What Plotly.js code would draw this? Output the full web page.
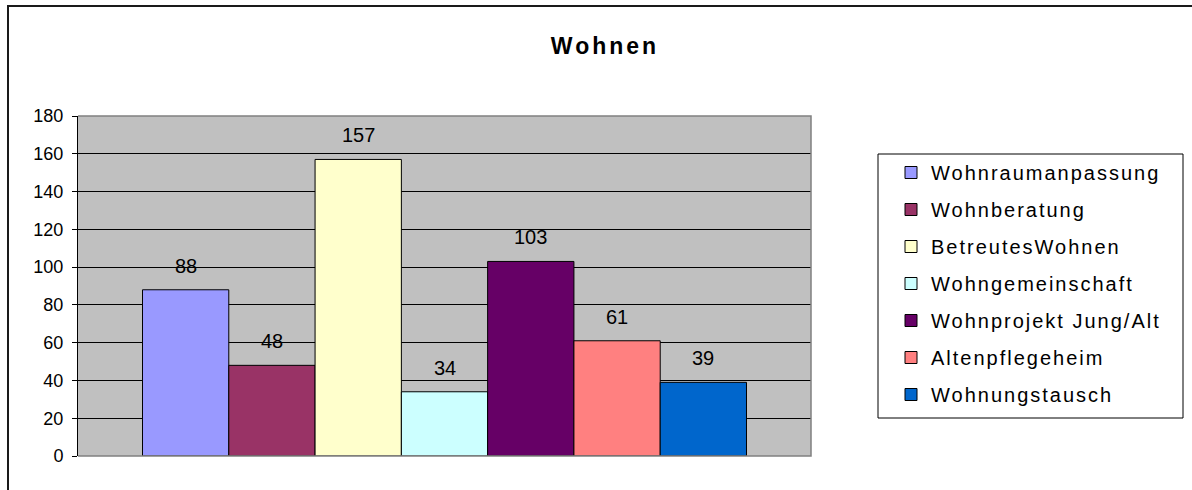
<!DOCTYPE html>
<html>
<head>
<meta charset="utf-8">
<script src="https://cdn.plot.ly/plotly-3.0.1.min.js"></script>
<style>
  html, body { margin: 0; padding: 0; background: #fff; }
  #wrap { position: relative; width: 1192px; height: 490px; overflow: hidden; }
  #chart { position: absolute; left: 0; top: 0; width: 1192px; height: 490px; }
  #frame { position: absolute; left: 7px; top: 5px; width: 1200px; height: 500px;
           border-top: 2px solid #1a1a1a; border-left: 2px solid #1a1a1a; pointer-events: none; }
  .legendtext { letter-spacing: 2px; }
  .gtitle { letter-spacing: 3px; }
</style>
</head>
<body>
<div id="wrap">
  <div id="chart"></div>
  <div id="frame"></div>
</div>
<script>
// ---- data ----
var category = ['Wohnen'];
var seriesNames = ['Wohnraumanpassung', 'Wohnberatung', 'BetreutesWohnen', 'Wohngemeinschaft',
                   'Wohnprojekt Jung/Alt', 'Altenpflegeheim', 'Wohnungstausch'];
var seriesValues = [88, 48, 157, 34, 103, 61, 39];
var seriesColors = ['#9999FF', '#993366', '#FFFFCC', '#CCFFFF', '#660066', '#FF8080', '#0066CC'];
var yTicks = [0, 20, 40, 60, 80, 100, 120, 140, 160, 180];

// ---- chart ----
var barGap = 0.176;
var n = seriesNames.length;
var traces = seriesNames.map(function (name, i) {
  return {
    type: 'bar',
    name: name,
    x: category,
    y: [seriesValues[i]],
    legendgroup: 'g' + i,
    marker: { color: seriesColors[i], line: { color: '#000000', width: 1 } },
    hoverinfo: 'skip'
  };
});

// value labels above each bar (x in category serial units)
var groupW = 1 - barGap;
var annotations = seriesValues.map(function (v, i) {
  return {
    xref: 'x', yref: 'y',
    x: -groupW / 2 + (i + 0.5) * groupW / n,
    y: v,
    text: String(v),
    showarrow: false,
    yanchor: 'bottom',
    yshift: 11,
    font: { family: 'Liberation Sans, Arial, sans-serif', size: 20, color: '#000' }
  };
});

var pl = 78, pr = 811, pt = 116, pb = 456;
var pw = pr - pl, ph = pb - pt;
function px(x) { return (x - pl) / pw; }
function py(y) { return (pb - y) / ph; }

var layout = {
  width: 1192, height: 490,
  margin: { l: pl, r: 1192 - pr, t: pt, b: 490 - pb, pad: 0 },
  paper_bgcolor: '#ffffff',
  plot_bgcolor: '#C0C0C0',
  font: { family: 'Liberation Sans, Arial, sans-serif', color: '#000' },
  title: {
    text: '<b>Wohnen</b>',
    font: { family: 'Liberation Sans, Arial, sans-serif', size: 23, color: '#000', weight: 'bold' },
    xref: 'container', yref: 'container',
    x: 605 / 1192, y: 1 - 45.5 / 490, xanchor: 'center', yanchor: 'middle'
  },
  barmode: 'group',
  bargap: barGap,
  bargroupgap: 0,
  showlegend: true,
  xaxis: {
    type: 'category',
    range: [-0.5, 0.5],
    showticklabels: false,
    ticks: '',
    showgrid: false,
    zeroline: false,
    showline: false,
    fixedrange: true
  },
  yaxis: {
    range: [0, 180],
    tickvals: yTicks,
    ticktext: yTicks.map(String),
    ticks: 'outside',
    ticklen: 5,
    tickwidth: 1,
    tickcolor: '#000',
    ticklabelstandoff: 5,
    tickfont: { family: 'Liberation Sans, Arial, sans-serif', size: 18, color: '#000' },
    showgrid: true,
    gridcolor: '#000000',
    gridwidth: 1,
    zeroline: false,
    showline: true,
    linecolor: '#000000',
    linewidth: 1,
    fixedrange: true
  },
  legend: {
    x: px(891), y: py(153),
    xanchor: 'left', yanchor: 'top',
    bgcolor: 'rgba(0,0,0,0)',
    borderwidth: 0,
    traceorder: 'grouped',
    tracegroupgap: 8,
    font: { family: 'Liberation Sans, Arial, sans-serif', size: 20, color: '#000' },
    itemclick: false, itemdoubleclick: false
  },
  shapes: [
    { type: 'path', xref: 'paper', yref: 'paper', path: 'M0,1 L1,1 L1,0 L0,0',
      line: { color: '#808080', width: 1.5 }, layer: 'above' },
    { type: 'rect', xref: 'paper', yref: 'paper',
      x0: px(878), x1: px(1183), y0: py(418), y1: py(154),
      line: { color: '#000', width: 1 }, fillcolor: '#ffffff', layer: 'below' }
  ],
  annotations: annotations
};

Plotly.newPlot('chart', traces, layout, { displayModeBar: false, staticPlot: true });
</script>
</body>
</html>
